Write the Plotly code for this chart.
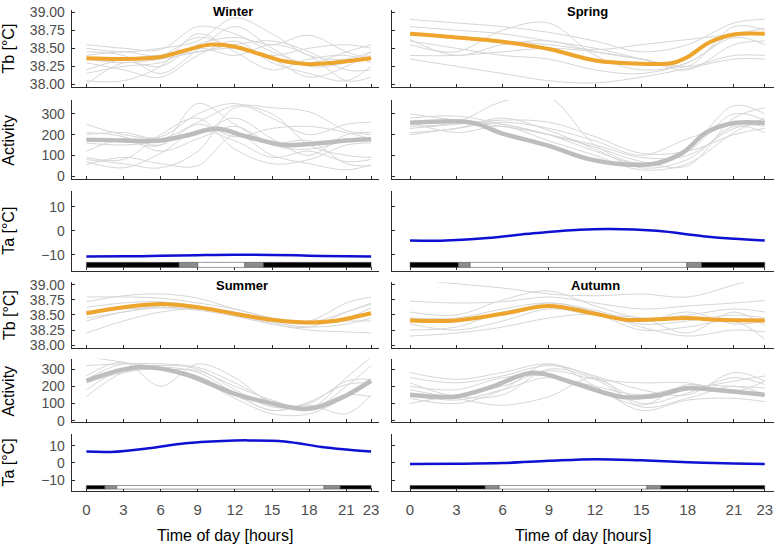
import plotly.graph_objects as go

W, H = 776, 546

# ---------------- data ----------------
HOURS_IND = [0, 3, 6, 9, 12, 15, 18, 21, 23]
X_TICKS = [0, 3, 6, 9, 12, 15, 18, 21, 23]

# Winter
winter_tb_hours = [0, 3, 6, 8, 10, 12, 14, 16, 18, 20, 23]
winter_tb_mean = [38.36, 38.35, 38.38, 38.47, 38.55, 38.52, 38.42, 38.32, 38.28, 38.30, 38.36]
winter_tb_ind = [
    [38.55, 38.50, 38.48, 38.80, 38.70, 38.45, 38.30, 38.45, 38.55],
    [38.50, 38.45, 38.50, 38.60, 38.92, 38.70, 38.40, 38.35, 38.45],
    [38.00, 38.30, 38.25, 38.55, 38.65, 38.55, 38.68, 38.45, 38.35],
    [38.30, 38.20, 38.10, 38.40, 38.60, 38.30, 38.15, 38.05, 38.25],
    [38.20, 38.35, 38.40, 38.45, 38.50, 38.40, 38.50, 38.55, 38.50],
    [38.45, 38.40, 38.15, 38.48, 38.80, 38.50, 38.25, 38.30, 38.40],
    [38.05, 38.05, 38.25, 38.70, 38.45, 38.20, 38.35, 38.40, 38.30],
    [38.35, 38.30, 38.35, 38.45, 38.55, 38.60, 38.45, 38.20, 38.20],
    [38.40, 38.45, 38.40, 38.65, 38.50, 38.35, 38.10, 38.25, 38.45],
    [38.15, 38.25, 38.30, 38.50, 38.40, 38.55, 38.40, 38.05, 38.10],
]
winter_act_hours = [0, 3, 6, 8, 10.5, 13, 16, 19, 21, 23]
winter_act_mean = [176, 172, 172, 195, 228, 190, 150, 160, 172, 178]
winter_act_ind = [
    [250, 200, 190, 300, 350, 280, 200, 250, 260],
    [200, 210, 180, 260, 340, 330, 310, 220, 200],
    [180, 170, 150, 350, 250, 150, 130, 170, 180],
    [90, 80, 200, 280, 130, 60, 80, 150, 160],
    [80, 60, 40, 120, 330, 300, 150, 100, 90],
    [55, 90, 60, 50, 200, 100, 60, 30, 55],
    [70, 40, 110, 220, 170, 90, 120, 70, 80],
    [160, 150, 170, 200, 280, 180, 100, 200, 210],
    [120, 180, 150, 250, 190, 230, 240, 210, 180],
    [210, 190, 120, 180, 240, 160, 170, 60, 50],
]
winter_ta_hours = [0, 3, 6, 9, 12, 15, 18, 21, 23]
winter_ta_mean = [-10.7, -10.6, -10.4, -10.1, -9.9, -10.0, -10.3, -10.6, -10.7]
winter_light = [7.5, 9.0, 12.8, 14.3]

# Spring
spring_tb_hours = [0, 3, 6, 9, 12, 15, 17, 18, 19.4, 21, 23]
spring_tb_mean = [38.70, 38.65, 38.59, 38.49, 38.33, 38.285, 38.295, 38.38, 38.58, 38.69, 38.70]
spring_tb_ind = [
    [38.90, 38.85, 38.80, 38.72, 38.60, 38.45, 38.55, 38.85, 38.90],
    [38.55, 38.45, 38.75, 38.85, 38.40, 38.20, 38.30, 38.70, 38.70],
    [38.35, 38.25, 38.15, 38.05, 38.02, 38.10, 38.22, 38.35, 38.35],
    [38.40, 38.40, 38.45, 38.50, 38.45, 38.35, 38.25, 38.40, 38.40],
    [38.62, 38.40, 38.55, 38.60, 38.45, 38.35, 38.25, 38.80, 38.75],
    [38.80, 38.75, 38.70, 38.60, 38.50, 38.35, 38.20, 38.55, 38.60],
    [38.70, 38.65, 38.60, 38.55, 38.48, 38.55, 38.62, 38.70, 38.78],
    [38.60, 38.50, 38.40, 38.35, 38.20, 38.15, 38.30, 38.65, 38.55],
]
spring_act_hours = [0, 4, 6, 9, 11.6, 14, 16, 17.7, 19.2, 21, 23]
spring_act_mean = [257, 258, 205, 146, 82, 56, 62, 114, 210, 256, 257]
spring_act_ind = [
    [300, 270, 250, 200, 120, 60, 130, 340, 300],
    [240, 260, 360, 380, 150, 60, 120, 300, 270],
    [250, 260, 240, 200, 150, 90, 100, 230, 250],
    [200, 230, 260, 230, 170, 100, 180, 250, 240],
    [280, 290, 250, 200, 140, 70, 50, 280, 330],
    [230, 250, 270, 260, 190, 110, 120, 200, 230],
    [260, 210, 240, 170, 100, 30, 60, 210, 280],
    [210, 230, 280, 220, 130, 40, 80, 240, 210],
]
spring_ta_hours = [0, 2, 5, 8, 11, 13, 16, 19, 21, 23]
spring_ta_mean = [-4.0, -4.1, -3.0, -1.0, 0.5, 0.8, 0.0, -2.2, -3.3, -4.0]
spring_light = [3.15, 3.9, 17.95, 18.9]

# Summer
summer_tb_hours = [0, 3, 6, 9, 12, 15, 18, 20, 23]
summer_tb_mean = [38.53, 38.63, 38.685, 38.63, 38.52, 38.42, 38.375, 38.40, 38.53]
summer_tb_ind = [
    [38.80, 38.80, 38.78, 38.70, 38.60, 38.45, 38.40, 38.70, 38.80],
    [38.72, 38.82, 38.85, 38.78, 38.60, 38.45, 38.38, 38.55, 38.70],
    [38.63, 38.70, 38.72, 38.65, 38.55, 38.40, 38.35, 38.45, 38.62],
    [38.45, 38.55, 38.65, 38.62, 38.50, 38.38, 38.30, 38.35, 38.45],
    [38.40, 38.55, 38.62, 38.60, 38.52, 38.42, 38.38, 38.40, 38.40],
    [38.20, 38.40, 38.55, 38.60, 38.50, 38.35, 38.25, 38.22, 38.20],
    [38.55, 38.60, 38.62, 38.58, 38.48, 38.35, 38.30, 38.55, 38.68],
]
summer_act_hours = [0, 3, 5, 8, 12, 15, 17.2, 18.5, 21, 23]
summer_act_mean = [232, 298, 311, 270, 156, 100, 71, 75, 147, 232]
summer_act_ind = [
    [370, 340, 300, 290, 200, 120, 70, 250, 370],
    [320, 330, 330, 310, 220, 110, 60, 200, 320],
    [260, 340, 200, 330, 250, 100, 80, 150, 140],
    [220, 280, 300, 260, 150, 60, 90, 40, 150],
    [180, 300, 320, 300, 180, 80, 100, 230, 240],
    [140, 280, 310, 280, 160, 60, 110, 210, 220],
    [240, 330, 300, 240, 130, 40, 40, 140, 230],
]
summer_ta_hours = [0, 2, 5, 8, 11, 13, 16, 19, 21, 23]
summer_ta_mean = [6.6, 6.4, 8.5, 11.5, 12.8, 13.1, 12.5, 9.3, 7.8, 6.6]
summer_light = [1.5, 2.45, 19.2, 20.5]

# Autumn
autumn_tb_hours = [0, 3, 6, 9, 12, 14, 16, 18, 20, 23]
autumn_tb_mean = [38.41, 38.41, 38.52, 38.65, 38.52, 38.42, 38.43, 38.45, 38.42, 38.41]
autumn_tb_ind = [
    [39.10, 39.02, 38.95, 38.85, 38.82, 38.85, 38.80, 39.00, 39.15],
    [38.73, 38.70, 38.72, 38.80, 38.70, 38.60, 38.65, 38.70, 38.74],
    [38.55, 38.50, 38.75, 38.90, 38.65, 38.45, 38.50, 38.60, 38.55],
    [38.45, 38.40, 38.50, 38.70, 38.55, 38.35, 38.40, 38.50, 38.45],
    [38.35, 38.25, 38.40, 38.60, 38.50, 38.45, 38.20, 38.55, 38.32],
    [38.25, 38.30, 38.55, 38.65, 38.55, 38.30, 38.15, 38.25, 38.22],
    [38.15, 38.20, 38.30, 38.45, 38.50, 38.25, 38.30, 38.40, 38.10],
    [38.45, 38.45, 38.60, 38.70, 38.58, 38.40, 38.55, 38.35, 38.40],
]
autumn_act_hours = [0, 3, 5.2, 8, 10.8, 13.8, 16, 18, 20.2, 23]
autumn_act_mean = [151, 141, 194, 278, 213, 137, 147, 188, 176, 151]
autumn_act_ind = [
    [280, 240, 280, 330, 250, 130, 180, 230, 260],
    [250, 220, 260, 320, 260, 180, 150, 280, 230],
    [220, 140, 150, 300, 240, 100, 160, 250, 210],
    [200, 180, 250, 260, 200, 150, 200, 200, 190],
    [180, 130, 90, 140, 250, 80, 130, 200, 150],
    [130, 100, 180, 330, 200, 60, 120, 130, 110],
    [100, 150, 200, 290, 240, 220, 220, 170, 230],
    [150, 120, 180, 250, 180, 90, 210, 160, 150],
]
autumn_ta_hours = [0, 3, 6, 9, 12, 15, 18, 21, 23]
autumn_ta_mean = [-0.6, -0.5, -0.1, 1.2, 2.2, 1.5, 0.4, -0.3, -0.6]
autumn_light = [4.88, 5.78, 15.36, 16.26]

TB_TICKS = [38.00, 38.25, 38.50, 38.75, 39.00]
ACT_TICKS = [0, 100, 200, 300]
TA_TICKS = [-10, 0, 10]

# ---------------- layout helpers ----------------
FONT = "Liberation Sans, Arial, sans-serif"
ORANGE = "#EDA52E"
MEANGREY = "#BDBDBD"
INDGREY = "#D6D6D6"
BLUE = "#0E10D2"
AXCOL = "#2b2b2b"

def px_x(v):
    return v / W

def px_y(v):
    return 1 - v / H

col_dom = {1: [px_x(72), px_x(379)], 2: [px_x(392.5), px_x(775)]}
row_px = {1: (5, 84), 2: (97, 178), 3: (190, 271),
          4: (283, 350), 5: (361, 426), 6: (438, 496)}
XRANGE = [-1.17, 23.6]
yr = {
    1: [37.959, 39.031], 2: [-16, 367], 3: [-16.5, 16.5],
    4: [37.952, 39.044], 5: [-10, 360], 6: [-16.3, 16.7],
}

fig = go.Figure()
layout = {}
shapes = []

seasons = {
    (1, 1): ("winter", 0), (1, 2): ("spring", 0),
    (2, 1): ("summer", 3), (2, 2): ("autumn", 3),
}
data = {
    "winter": (winter_tb_hours, winter_tb_mean, winter_tb_ind, winter_act_hours, winter_act_mean,
               winter_act_ind, winter_ta_hours, winter_ta_mean, winter_light),
    "spring": (spring_tb_hours, spring_tb_mean, spring_tb_ind, spring_act_hours, spring_act_mean,
               spring_act_ind, spring_ta_hours, spring_ta_mean, spring_light),
    "summer": (summer_tb_hours, summer_tb_mean, summer_tb_ind, summer_act_hours, summer_act_mean,
               summer_act_ind, summer_ta_hours, summer_ta_mean, summer_light),
    "autumn": (autumn_tb_hours, autumn_tb_mean, autumn_tb_ind, autumn_act_hours, autumn_act_mean,
               autumn_act_ind, autumn_ta_hours, autumn_ta_mean, autumn_light),
}

def axis_idx(row, col):
    return (row - 1) * 2 + col

for (half, col), (name, roff) in seasons.items():
    (tbh, tbm, tbi, ach, acm, aci, tah, tam, light) = data[name]
    for k in range(3):
        row = roff + k + 1
        n = axis_idx(row, col)
        xs = "x" if n == 1 else f"x{n}"
        ys = "y" if n == 1 else f"y{n}"
        if k == 0:
            for ind in tbi:
                fig.add_trace(go.Scatter(x=HOURS_IND, y=ind, mode="lines", xaxis=xs, yaxis=ys,
                                         line=dict(color=INDGREY, width=1, shape="spline"),
                                         showlegend=False, hoverinfo="skip"))
            fig.add_trace(go.Scatter(x=tbh, y=tbm, mode="lines", xaxis=xs, yaxis=ys,
                                     line=dict(color=ORANGE, width=4, shape="spline"),
                                     showlegend=False))
            tv, tt = TB_TICKS, [f"{v:.2f}" for v in TB_TICKS]
        elif k == 1:
            for ind in aci:
                fig.add_trace(go.Scatter(x=HOURS_IND, y=ind, mode="lines", xaxis=xs, yaxis=ys,
                                         line=dict(color=INDGREY, width=1, shape="spline"),
                                         showlegend=False, hoverinfo="skip"))
            fig.add_trace(go.Scatter(x=ach, y=acm, mode="lines", xaxis=xs, yaxis=ys,
                                     line=dict(color=MEANGREY, width=4.5, shape="spline"),
                                     showlegend=False))
            tv, tt = ACT_TICKS, [str(v) for v in ACT_TICKS]
        else:
            fig.add_trace(go.Scatter(x=tah, y=tam, mode="lines", xaxis=xs, yaxis=ys,
                                     line=dict(color=BLUE, width=2.5, shape="spline"),
                                     showlegend=False))
            tv, tt = TA_TICKS, ["\u221210", "0", "10"]
            segs = [(0, light[0], "black"), (light[0], light[1], "#8C8C8C"),
                    (light[1], light[2], "white"), (light[2], light[3], "#8C8C8C"),
                    (light[3], 23, "black")]
            for x0, x1, c in segs:
                shapes.append(dict(type="rect", xref=xs, yref=ys, x0=x0, x1=x1,
                                   y0=-15.2, y1=-13.1, fillcolor=c,
                                   line=dict(color="#555555", width=0.6), layer="above"))
        top, bot = row_px[row]
        layout["xaxis" if n == 1 else f"xaxis{n}"] = dict(
            domain=col_dom[col], range=XRANGE, anchor=ys, showline=True, linecolor=AXCOL,
            linewidth=1.4, ticks="inside", ticklen=3, tickcolor=AXCOL, tickwidth=1,
            tickvals=X_TICKS, showticklabels=(row == 6), showgrid=False, zeroline=False,
            ticklabelstandoff=5,
            tickfont=dict(family=FONT, size=15, color="#4D4D4D"), fixedrange=True)
        layout["yaxis" if n == 1 else f"yaxis{n}"] = dict(
            domain=[px_y(bot), px_y(top)], range=yr[row], anchor=xs, showline=True,
            linecolor=AXCOL, linewidth=1.4, ticks="inside", ticklen=3, tickcolor=AXCOL,
            tickwidth=1, tickvals=tv, ticktext=tt, showticklabels=(col == 1),
            showgrid=False, zeroline=False, ticklabelstandoff=3,
            tickfont=dict(family=FONT, size=14, color="#4D4D4D"), fixedrange=True)

annotations = []
ytitles = ["Tb [°C]", "Activity", "Ta [°C]", "Tb [°C]", "Activity", "Ta [°C]"]
for r, t in enumerate(ytitles, start=1):
    top, bot = row_px[r]
    annotations.append(dict(text=t, x=px_x(9), y=px_y((top + bot) / 2), xref="paper",
                            yref="paper", showarrow=False, textangle=-90,
                            xanchor="center", yanchor="middle",
                            font=dict(family=FONT, size=16, color="black")))
for xc in (225.5, 584):
    annotations.append(dict(text="Time of day [hours]", x=px_x(xc), y=px_y(541),
                            xref="paper", yref="paper", showarrow=False,
                            xanchor="center", yanchor="middle",
                            font=dict(family=FONT, size=16, color="black")))
for t, xc, yc in (("Winter", 233, 7), ("Spring", 588, 7), ("Summer", 242, 286), ("Autumn", 596, 286)):
    annotations.append(dict(text=f"<b>{t}</b>", x=px_x(xc), y=px_y(yc), xref="paper",
                            yref="paper", showarrow=False, xanchor="center", yanchor="middle",
                            font=dict(family=FONT, size=13, color="black")))

fig.update_layout(width=W, height=H, margin=dict(l=0, r=0, t=0, b=0),
                  paper_bgcolor="white", plot_bgcolor="white", showlegend=False,
                  shapes=shapes, annotations=annotations, **layout)
fig.write_html("out.html", config={"displayModeBar": False},
               post_script="document.body.style.margin='0';document.body.style.overflow='hidden';")
